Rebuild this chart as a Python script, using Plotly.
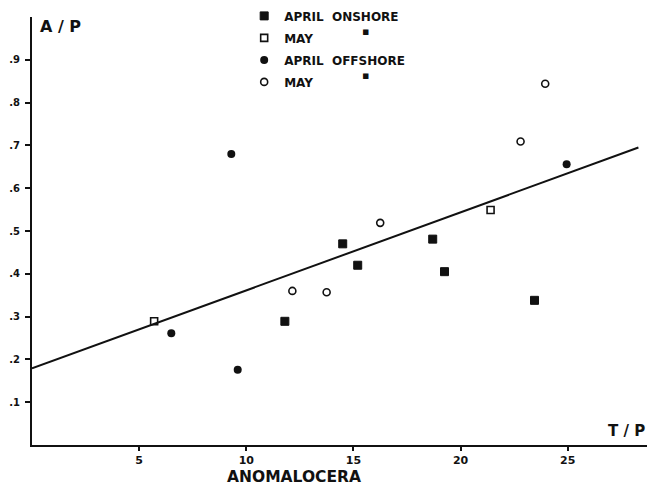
import plotly.graph_objects as go

# Data (T/P on x, A/P on y)
april_on_x = [11.8, 14.5, 15.2, 18.7, 19.25, 23.45]
april_on_y = [0.289, 0.470, 0.420, 0.481, 0.405, 0.338]
may_on_x = [5.7, 21.4]
may_on_y = [0.289, 0.549]
april_off_x = [6.5, 9.3, 9.6, 24.95]
april_off_y = [0.261, 0.680, 0.176, 0.656]
may_off_x = [12.15, 13.75, 16.25, 22.8, 23.95]
may_off_y = [0.360, 0.357, 0.519, 0.709, 0.844]
fit_x = [0.0, 28.3]
fit_y = [0.179, 0.695]

x_ticks = [5, 10, 15, 20, 25]
x_ticklabels = ["5", "10", "15", "20", "25"]
y_ticks = [0.1, 0.2, 0.3, 0.4, 0.5, 0.6, 0.7, 0.8, 0.9]
y_ticklabels = [".1", ".2", ".3", ".4", ".5", ".6", ".7", ".8", ".9"]

FONT = "DejaVu Sans"
INK = "#111"
fig = go.Figure()

fig.add_trace(go.Scatter(x=fit_x, y=fit_y, mode="lines",
                         line=dict(color=INK, width=2), showlegend=False,
                         hoverinfo="skip"))
fig.add_trace(go.Scatter(x=april_on_x, y=april_on_y, mode="markers", name="APRIL  ONSHORE",
                         legendgroup="a",
                         marker=dict(symbol="square", size=8, color=INK,
                                     line=dict(color=INK, width=1))))
fig.add_trace(go.Scatter(x=may_on_x, y=may_on_y, mode="markers", name="MAY",
                         legendgroup="b",
                         marker=dict(symbol="square-open", size=7, color=INK,
                                     line=dict(color=INK, width=1.6))))
fig.add_trace(go.Scatter(x=april_off_x, y=april_off_y, mode="markers", name="APRIL  OFFSHORE",
                         legendgroup="c",
                         marker=dict(symbol="circle", size=8, color=INK)))
fig.add_trace(go.Scatter(x=may_off_x, y=may_off_y, mode="markers", name="MAY",
                         legendgroup="d",
                         marker=dict(symbol="circle-open", size=7, color=INK,
                                     line=dict(color=INK, width=1.6))))

fig.update_layout(
    width=649, height=486,
    margin=dict(l=32, r=2, t=17, b=41, autoexpand=False),
    paper_bgcolor="white", plot_bgcolor="white",
    font=dict(family=FONT, color=INK, size=12, weight="bold"),
    showlegend=True,
    legend=dict(x=0.345, y=1.0365, xanchor="left", yanchor="top",
                bgcolor="rgba(0,0,0,0)", borderwidth=0,
                tracegroupgap=3, itemwidth=30,
                font=dict(family=FONT, size=12, color=INK, weight="bold")),
    xaxis=dict(range=[0, 28.7], showgrid=False, zeroline=False,
               showline=True, linecolor=INK, linewidth=2,
               ticks="outside", ticklen=4, tickwidth=1.5, tickcolor=INK,
               tickvals=x_ticks, ticktext=x_ticklabels,
               tickfont=dict(family=FONT, size=11, weight="bold")),
    yaxis=dict(range=[0, 1.0], showgrid=False, zeroline=False,
               showline=True, linecolor=INK, linewidth=2,
               ticks="outside", ticklen=5, tickwidth=1.5, tickcolor=INK,
               tickvals=y_ticks, ticktext=y_ticklabels,
               ticklabelstandoff=3,
               tickfont=dict(family=FONT, size=10, weight="bold")),
    annotations=[
        dict(text="A / P", xref="paper", yref="paper", x=0.047, y=0.977,
             xanchor="center", yanchor="middle",
             showarrow=False, font=dict(family=FONT, size=16, weight="bold")),
        dict(text="T / P", xref="paper", yref="paper", x=0.966, y=0.032,
             xanchor="center", yanchor="middle",
             showarrow=False, font=dict(family=FONT, size=15, weight="bold")),
        dict(text="ANOMALOCERA", xref="paper", yref="paper", x=0.426, y=-0.0754,
             xanchor="center", yanchor="middle",
             showarrow=False, font=dict(family=FONT, size=15.5, weight="bold")),
        dict(text="▪", xref="paper", yref="paper", x=0.5415, y=0.9655,
             xanchor="center", yanchor="middle",
             showarrow=False, font=dict(family=FONT, size=11)),
        dict(text="▪", xref="paper", yref="paper", x=0.5415, y=0.8626,
             xanchor="center", yanchor="middle",
             showarrow=False, font=dict(family=FONT, size=11)),
    ],
)

fig.write_html(
    "out.html",
    config={"displayModeBar": False},
    post_script="document.body.style.margin='0';document.body.style.overflow='hidden';",
)
